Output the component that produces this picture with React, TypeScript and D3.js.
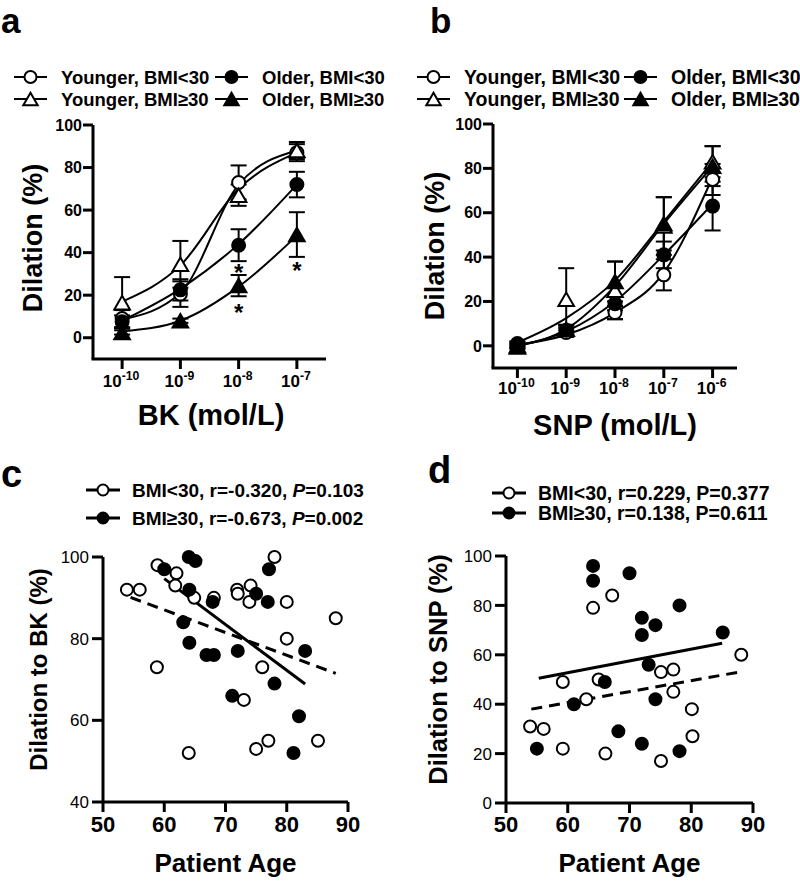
import React from "react";
import * as d3 from "d3";

// ---------- DATA ----------
// Panel a: BK concentration (log10 mol/L)
const BK_LOG_CONC = [-10, -9, -8, -7];
const BK_YOUNG_LOW = [9, 20.5, 73, 87];
const BK_YOUNG_LOW_ERR = [4, 6, 8, 4];
const BK_YOUNG_LOW_FIT = [8.5, 21, 72, 88];
const BK_OLD_LOW = [7.5, 22.5, 43.5, 72];
const BK_OLD_LOW_ERR = [3, 5, 7.5, 6];
const BK_OLD_LOW_FIT = [8, 23, 44, 72];
const BK_YOUNG_HIGH = [16.5, 34.5, 67, 88];
const BK_YOUNG_HIGH_ERR = [12, 11, 5, 4];
const BK_YOUNG_HIGH_FIT = [17, 34, 70, 87];
const BK_OLD_HIGH = [2.5, 8, 24.5, 48.5];
const BK_OLD_HIGH_ERR = [1, 1, 5, 10.5];
const BK_OLD_HIGH_FIT = [3, 8, 24, 48];
const BK_ASTERISKS: [number, number][] = [[-8, 33], [-8, 14], [-7, 34]];

// Panel b: SNP concentration (log10 mol/L)
const SNP_LOG_CONC = [-10, -9, -8, -7, -6];
const SNP_YOUNG_LOW = [1, 6, 15, 32, 75];
const SNP_YOUNG_LOW_ERR = [1, 2, 3, 7, 7];
const SNP_YOUNG_LOW_FIT = [0.5, 5, 15, 33, 76];
const SNP_OLD_LOW = [0.5, 7, 19, 41, 63];
const SNP_OLD_LOW_ERR = [1, 2, 3, 6, 11];
const SNP_OLD_LOW_FIT = [0, 6.5, 20, 41, 64];
const SNP_YOUNG_HIGH = [0, 21, 25, 54, 83];
const SNP_YOUNG_HIGH_ERR = [1, 14, 13, 13, 7];
const SNP_YOUNG_HIGH_FIT = [1.5, 12.5, 29.5, 56, 83];
const SNP_OLD_HIGH = [-0.5, 7.5, 29, 55, 81];
const SNP_OLD_HIGH_ERR = [1, 2, 9, 12, 9];
const SNP_OLD_HIGH_FIT = [0, 7.5, 27, 55, 81];

const LEGEND_GROUPS = ["Younger, BMI<30", "Older, BMI<30", "Younger, BMI\u226530", "Older, BMI\u226530"];

// Panel c: age vs dilation to BK
const C_LOW_AGE = [53.9, 56, 58.9, 58.8, 62, 61.8, 64.9, 64, 68.1, 71.9, 72, 74.1, 73.9, 73, 76, 75, 77, 78, 80, 80, 85.1, 88];
const C_LOW_VAL = [92, 92, 98, 73, 96, 93, 90, 52, 90, 92, 91, 93, 89, 65, 73, 53, 55, 100, 89, 80, 55, 85];
const C_HIGH_AGE = [60, 64, 65.1, 64.1, 63.1, 64.1, 67.9, 66.9, 68.1, 72, 71.1, 75, 77.1, 76.9, 78, 83, 82, 81.1];
const C_HIGH_VAL = [97, 100, 99, 92, 84, 79, 89, 76, 76, 77, 66, 91, 97, 89, 69, 77, 61, 52];
const C_LOW_FIT: [number, number][] = [[54.5, 90.1], [88, 71.5]];
const C_HIGH_FIT: [number, number][] = [[60, 94.7], [83, 68.9]];

// Panel d: age vs dilation to SNP
const D_LOW_AGE = [53.9, 56.1, 59.2, 59.2, 63, 64.1, 65, 67.2, 66.1, 75.1, 77.1, 77.1, 75.1, 80.1, 80.2, 88.1];
const D_LOW_VAL = [31, 30, 49, 22, 42, 79, 50, 84, 20, 53, 54, 45, 17, 38, 27, 60];
const D_HIGH_AGE = [55, 61, 64.1, 64.1, 66, 68.2, 70, 72, 72, 74.2, 73.1, 74.2, 72, 78.1, 78.1, 85.1];
const D_HIGH_VAL = [22, 40, 96, 90, 49, 29, 93, 75, 68, 72, 56, 42, 24, 80, 21, 69];
const D_LOW_FIT: [number, number][] = [[54.1, 38], [88.2, 53.2]];
const D_HIGH_FIT: [number, number][] = [[55.3, 50.5], [85, 64.7]];

const Y_TICKS_AB = [0, 20, 40, 60, 80, 100];
const Y_TICKS_C = [40, 60, 80, 100];
const Y_TICKS_D = [0, 20, 40, 60, 80, 100];
const AGE_TICKS = [50, 60, 70, 80, 90];

// ---------- STYLE ----------
const FONT = "'Liberation Sans', Arial, Helvetica, sans-serif";
const AX = 3;

type MarkerKind = "openCircle" | "filledCircle" | "openTri" | "filledTri";
const KINDS: MarkerKind[] = ["openCircle", "filledCircle", "openTri", "filledTri"];

function Marker({ kind, x, y, r = 6.5 }: { kind: MarkerKind; x: number; y: number; r?: number }) {
  if (kind === "openCircle" || kind === "filledCircle") {
    return <circle cx={x} cy={y} r={r} fill={kind === "openCircle" ? "white" : "black"} stroke="black" strokeWidth={2} />;
  }
  const s = r * 2.4;
  const h = (s * Math.sqrt(3)) / 2;
  const d = `M${x},${y - h / 2}L${x + s / 2},${y + h / 2}L${x - s / 2},${y + h / 2}Z`;
  return <path d={d} fill={kind === "openTri" ? "white" : "black"} stroke="black" strokeWidth={2} strokeLinejoin="miter" />;
}

function Pow({ x, y, exp, size = 17 }: { x: number; y: number; exp: number; size?: number }) {
  return (
    <text x={x} y={y} textAnchor="middle" fontFamily={FONT} fontWeight="bold" fontSize={size}>
      10
      <tspan fontSize={size * 0.72} dy={-7}>
        {String(exp)}
      </tspan>
    </text>
  );
}

function DoseResponse({
  conc,
  series,
  fits,
  errs,
  xRange,
  yRange,
  labelBase,
  title,
  titleX,
  titleY,
  yTitleX,
  yTitleY,
  asterisks,
}: {
  conc: number[];
  series: number[][];
  fits: number[][];
  errs: number[][];
  xRange: [number, number];
  yRange: [number, number];
  labelBase: number;
  title: string;
  titleX: number;
  titleY: number;
  yTitleX: number;
  yTitleY: number;
  asterisks?: [number, number][];
}) {
  const x = d3.scaleLinear().domain([conc[0] - 0.5, conc[conc.length - 1] + 0.5]).range(xRange);
  const y = d3.scaleLinear().domain([-10, 100]).range(yRange);
  const line = d3
    .line<number>()
    .x((_, i) => x(conc[i]))
    .y((v) => y(v))
    .curve(d3.curveMonotoneX);
  const x0 = xRange[0];
  const yb = yRange[0];
  return (
    <g>
      {/* axes */}
      <line x1={x0} x2={x0} y1={y(100)} y2={yb} stroke="black" strokeWidth={AX} />
      <line x1={x0 - 1.5} x2={xRange[1]} y1={yb} y2={yb} stroke="black" strokeWidth={AX} />
      {Y_TICKS_AB.map((t) => (
        <g key={t}>
          <line x1={x0 - 10} x2={x0} y1={y(t)} y2={y(t)} stroke="black" strokeWidth={AX} />
          <text x={x0 - 11} y={y(t)} dy="0.36em" textAnchor="end" fontFamily={FONT} fontWeight="bold" fontSize={16}>
            {t}
          </text>
        </g>
      ))}
      {conc.map((c) => (
        <g key={c}>
          <line x1={x(c)} x2={x(c)} y1={yb} y2={yb + 10} stroke="black" strokeWidth={AX} />
          <Pow x={x(c) - 1} y={labelBase} exp={c} />
        </g>
      ))}
      <text x={titleX} y={titleY} textAnchor="middle" fontFamily={FONT} fontWeight="bold" fontSize={29}>
        {title}
      </text>
      <text
        transform={`translate(${yTitleX},${yTitleY}) rotate(-90)`}
        textAnchor="middle"
        fontFamily={FONT}
        fontWeight="bold"
        fontSize={27}
      >
        Dilation (%)
      </text>
      {/* curves */}
      {fits.map((s, si) => (
        <path key={si} d={line(s) || ""} fill="none" stroke="black" strokeWidth={2} />
      ))}
      {/* error bars */}
      {series.map((s, si) =>
        s.map((v, i) => {
          const e = errs[si][i];
          const cx = x(conc[i]);
          return (
            <g key={`${si}-${i}`} stroke="black" strokeWidth={2}>
              <line x1={cx} x2={cx} y1={y(v + e)} y2={y(v - e)} />
              <line x1={cx - 8} x2={cx + 8} y1={y(v + e)} y2={y(v + e)} />
              <line x1={cx - 8} x2={cx + 8} y1={y(v - e)} y2={y(v - e)} />
            </g>
          );
        })
      )}
      {/* markers */}
      {series.map((s, si) => s.map((v, i) => <Marker key={`${si}-${i}`} kind={KINDS[si]} x={x(conc[i])} y={y(v)} />))}
      {(asterisks || []).map(([c, v], i) => (
        <text key={i} x={x(c)} y={y(v)} dy="0.55em" textAnchor="middle" fontFamily={FONT} fontWeight="bold" fontSize={24}>
          *
        </text>
      ))}
    </g>
  );
}

function GroupLegend({ x0, x1, rowY, size }: { x0: number; x1: number; rowY: [number, number]; size: number }) {
  const items = [
    { kind: "openCircle" as MarkerKind, label: LEGEND_GROUPS[0], col: 0, row: 0 },
    { kind: "filledCircle" as MarkerKind, label: LEGEND_GROUPS[1], col: 1, row: 0 },
    { kind: "openTri" as MarkerKind, label: LEGEND_GROUPS[2], col: 0, row: 1 },
    { kind: "filledTri" as MarkerKind, label: LEGEND_GROUPS[3], col: 1, row: 1 },
  ];
  return (
    <g>
      {items.map((it) => {
        const sx = it.col === 0 ? x0 : x1;
        const yy = rowY[it.row];
        return (
          <g key={it.label}>
            <line x1={sx} x2={sx + 33} y1={yy} y2={yy} stroke="black" strokeWidth={2} />
            <Marker kind={it.kind} x={sx + 16.5} y={yy} r={6} />
            <text x={sx + 47} y={yy} dy="0.36em" fontFamily={FONT} fontWeight="bold" fontSize={size}>
              {it.label}
            </text>
          </g>
        );
      })}
    </g>
  );
}

function Scatter({
  lowAge,
  lowVal,
  highAge,
  highVal,
  lowFit,
  highFit,
  xRange,
  yRange,
  yDomain,
  yTicks,
  yTitle,
  yTitleX,
  yTitleSize,
  legendX,
  legendRows,
  legendSize,
  legendLow,
  legendHigh,
  italicP,
}: {
  lowAge: number[];
  lowVal: number[];
  highAge: number[];
  highVal: number[];
  lowFit: [number, number][];
  highFit: [number, number][];
  xRange: [number, number];
  yRange: [number, number];
  yDomain: [number, number];
  yTicks: number[];
  yTitle: string;
  yTitleX: number;
  yTitleSize: number;
  legendX: number;
  legendRows: [number, number];
  legendSize: number;
  legendLow: [string, string];
  legendHigh: [string, string];
  italicP: boolean;
}) {
  const x = d3.scaleLinear().domain([50, 90]).range(xRange);
  const y = d3.scaleLinear().domain(yDomain).range(yRange);
  const fit = d3
    .line<[number, number]>()
    .x((d) => x(d[0]))
    .y((d) => y(d[1]));
  const x0 = xRange[0];
  const yb = yRange[0];
  const legendItems: { kind: MarkerKind; text: [string, string] }[] = [
    { kind: "openCircle", text: legendLow },
    { kind: "filledCircle", text: legendHigh },
  ];
  return (
    <g>
      <line x1={x0} x2={x0} y1={y(yDomain[1])} y2={yb} stroke="black" strokeWidth={AX} />
      <line x1={x0} x2={xRange[1]} y1={yb} y2={yb} stroke="black" strokeWidth={AX} />
      {yTicks.map((t) => (
        <g key={t}>
          <line x1={x0 - 11} x2={x0} y1={y(t)} y2={y(t)} stroke="black" strokeWidth={AX} />
          <text x={x0 - 14} y={y(t)} dy="0.36em" textAnchor="end" fontFamily={FONT} fontSize={17}>
            {t}
          </text>
        </g>
      ))}
      {AGE_TICKS.map((t) => (
        <g key={t}>
          <line x1={x(t)} x2={x(t)} y1={yb} y2={yb + 10} stroke="black" strokeWidth={AX} />
          <text x={x(t)} y={832} textAnchor="middle" fontFamily={FONT} fontWeight="bold" fontSize={22}>
            {t}
          </text>
        </g>
      ))}
      <text x={(xRange[0] + xRange[1]) / 2} y={872} textAnchor="middle" fontFamily={FONT} fontWeight="bold" fontSize={26}>
        Patient Age
      </text>
      <text
        transform={`translate(${yTitleX},${(yRange[0] + yRange[1]) / 2 - 10}) rotate(-90)`}
        textAnchor="middle"
        fontFamily={FONT}
        fontWeight="bold"
        fontSize={yTitleSize}
      >
        {yTitle}
      </text>
      {/* fit lines */}
      <path d={fit(lowFit) || ""} stroke="black" strokeWidth={3} strokeDasharray="11,7" fill="none" />
      <path d={fit(highFit) || ""} stroke="black" strokeWidth={3} fill="none" />
      {/* points */}
      {lowAge.map((a, i) => (
        <Marker key={`l${i}`} kind="openCircle" x={x(a)} y={y(lowVal[i])} r={6} />
      ))}
      {highAge.map((a, i) => (
        <Marker key={`h${i}`} kind="filledCircle" x={x(a)} y={y(highVal[i])} r={6} />
      ))}
      {/* legend */}
      {legendItems.map((it, i) => {
        const yy = legendRows[i];
        return (
          <g key={i}>
            <line x1={legendX} x2={legendX + 34} y1={yy} y2={yy} stroke="black" strokeWidth={3} />
            <Marker kind={it.kind} x={legendX + 17} y={yy} r={5.5} />
            <text x={legendX + 46} y={yy} dy="0.36em" fontFamily={FONT} fontWeight="bold" fontSize={legendSize}>
              {it.text[0]}
              <tspan fontStyle={italicP ? "italic" : "normal"}>P</tspan>
              {it.text[1]}
            </text>
          </g>
        );
      })}
    </g>
  );
}

export default function App() {
  return (
    <svg
      width={800}
      height={883}
      viewBox="0 0 800 883"
      style={{ position: "absolute", left: 0, top: 0, background: "white" }}
    >
      <rect x={0} y={0} width={800} height={883} fill="white" />
      {/* panel letters */}
      <text x={1} y={33} fontFamily={FONT} fontWeight="bold" fontSize={35}>a</text>
      <text x={430} y={33} fontFamily={FONT} fontWeight="bold" fontSize={35}>b</text>
      <text x={1} y={487} fontFamily={FONT} fontWeight="bold" fontSize={38}>c</text>
      <text x={428} y={483} fontFamily={FONT} fontWeight="bold" fontSize={38}>d</text>

      <GroupLegend x0={14} x1={215} rowY={[77, 99]} size={18.5} />
      <GroupLegend x0={417} x1={624} rowY={[77, 99]} size={19.5} />

      <DoseResponse
        conc={BK_LOG_CONC}
        series={[BK_YOUNG_LOW, BK_OLD_LOW, BK_YOUNG_HIGH, BK_OLD_HIGH]}
        fits={[BK_YOUNG_LOW_FIT, BK_OLD_LOW_FIT, BK_YOUNG_HIGH_FIT, BK_OLD_HIGH_FIT]}
        errs={[BK_YOUNG_LOW_ERR, BK_OLD_LOW_ERR, BK_YOUNG_HIGH_ERR, BK_OLD_HIGH_ERR]}
        xRange={[93, 326]}
        yRange={[359, 125]}
        labelBase={387}
        title="BK (mol/L)"
        titleX={211}
        titleY={425}
        yTitleX={42}
        yTitleY={238}
        asterisks={BK_ASTERISKS}
      />
      <DoseResponse
        conc={SNP_LOG_CONC}
        series={[SNP_YOUNG_LOW, SNP_OLD_LOW, SNP_YOUNG_HIGH, SNP_OLD_HIGH]}
        fits={[SNP_YOUNG_LOW_FIT, SNP_OLD_LOW_FIT, SNP_YOUNG_HIGH_FIT, SNP_OLD_HIGH_FIT]}
        errs={[SNP_YOUNG_LOW_ERR, SNP_OLD_LOW_ERR, SNP_YOUNG_HIGH_ERR, SNP_OLD_HIGH_ERR]}
        xRange={[493, 737]}
        yRange={[368, 124]}
        labelBase={394}
        title="SNP (mol/L)"
        titleX={615}
        titleY={435}
        yTitleX={444}
        yTitleY={246}
      />

      <Scatter
        lowAge={C_LOW_AGE}
        lowVal={C_LOW_VAL}
        highAge={C_HIGH_AGE}
        highVal={C_HIGH_VAL}
        lowFit={C_LOW_FIT}
        highFit={C_HIGH_FIT}
        xRange={[103, 348]}
        yRange={[802, 557]}
        yDomain={[40, 100]}
        yTicks={Y_TICKS_C}
        yTitle="Dilation to BK (%)"
        yTitleX={47}
        yTitleSize={24}
        legendX={86}
        legendRows={[490, 518]}
        legendSize={19}
        legendLow={["BMI<30, r=-0.320, ", "=0.103"]}
        legendHigh={["BMI\u226530, r=-0.673, ", "=0.002"]}
        italicP={true}
      />
      <Scatter
        lowAge={D_LOW_AGE}
        lowVal={D_LOW_VAL}
        highAge={D_HIGH_AGE}
        highVal={D_HIGH_VAL}
        lowFit={D_LOW_FIT}
        highFit={D_HIGH_FIT}
        xRange={[506, 753]}
        yRange={[803, 556]}
        yDomain={[0, 100]}
        yTicks={Y_TICKS_D}
        yTitle="Dilation to SNP (%)"
        yTitleX={447}
        yTitleSize={25.5}
        legendX={492}
        legendRows={[493, 513]}
        legendSize={19.5}
        legendLow={["BMI<30, r=0.229, ", "=0.377"]}
        legendHigh={["BMI\u226530, r=0.138, ", "=0.611"]}
        italicP={false}
      />
    </svg>
  );
}
